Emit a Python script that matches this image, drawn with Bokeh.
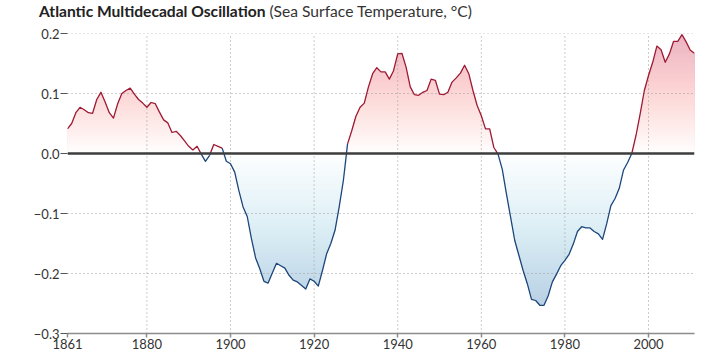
import numpy as np
from bokeh.plotting import figure
from bokeh.models import FixedTicker, CustomJSTickFormatter, Span, Range1d, Div
from bokeh.layouts import column
from bokeh.embed import file_html
from bokeh.resources import INLINE

# ---------------- data ----------------
years = list(range(1861, 2012))
amo = [
    0.041, 0.050, 0.068, 0.077, 0.073, 0.068, 0.067, 0.090, 0.102, 0.086,   # 1861-1870
    0.068, 0.059, 0.083, 0.100, 0.105, 0.109, 0.099, 0.090, 0.084, 0.077,   # 1871-1880
    0.085, 0.083, 0.069, 0.056, 0.051, 0.035, 0.037, 0.030, 0.021, 0.012,   # 1881-1890
    0.006, 0.012, -0.001, -0.013, -0.003, 0.015, 0.012, 0.009, -0.013, -0.017,  # 1891-1900
    -0.031, -0.062, -0.089, -0.105, -0.142, -0.174, -0.192, -0.213, -0.216, -0.199,  # 1901-1910
    -0.183, -0.187, -0.191, -0.203, -0.211, -0.214, -0.220, -0.226, -0.209, -0.213,  # 1911-1920
    -0.221, -0.195, -0.167, -0.150, -0.128, -0.089, -0.045, 0.016, 0.038, 0.062,   # 1921-1930
    0.077, 0.084, 0.111, 0.133, 0.143, 0.136, 0.136, 0.124, 0.138, 0.166,   # 1931-1940
    0.167, 0.144, 0.111, 0.098, 0.097, 0.102, 0.105, 0.124, 0.122, 0.099,   # 1941-1950
    0.098, 0.102, 0.119, 0.126, 0.134, 0.147, 0.133, 0.105, 0.080, 0.063,   # 1951-1960
    0.041, 0.041, 0.010, -0.001, -0.026, -0.067, -0.106, -0.145, -0.170, -0.195,  # 1961-1970
    -0.217, -0.243, -0.245, -0.253, -0.253, -0.237, -0.214, -0.201, -0.187, -0.178,  # 1971-1980
    -0.168, -0.151, -0.130, -0.122, -0.124, -0.124, -0.130, -0.134, -0.143, -0.117,  # 1981-1990
    -0.087, -0.075, -0.058, -0.028, -0.015, 0.000, 0.030, 0.066, 0.105, 0.130,   # 1991-2000
    0.152, 0.179, 0.173, 0.152, 0.166, 0.187, 0.187, 0.198, 0.186, 0.172,   # 2001-2010
    0.167,                                                                   # 2011
]
x_ticks = [1861, 1880, 1900, 1920, 1940, 1960, 1980, 2000]
y_ticks = [-0.3, -0.2, -0.1, 0.0, 0.1, 0.2]
title_bold = "Atlantic Multidecadal Oscillation"
title_rest = "(Sea Surface Temperature, °C)"

FONT = "Lato"
RED_LINE = "#9e1b34"
BLUE_LINE = "#1d477a"
GRID = "#9a9a9a"

x = np.array(years, dtype=float)
v = np.array(amo, dtype=float)
x_lo, x_hi = 1861, 2011
y_lo, y_hi = -0.3, 0.2

p = figure(width=720, height=329, output_backend="svg", toolbar_location=None,
           x_range=Range1d(x_lo, x_hi), y_range=Range1d(y_lo, y_hi),
           min_border_left=67, min_border_right=26, min_border_top=8,
           min_border_bottom=21)
p.outline_line_color = None
p.background_fill_color = "white"
p.border_fill_color = "white"
p.xgrid.visible = False
p.ygrid.visible = False


def hexrgb(h):
    h = h.lstrip("#")
    return [int(h[i:i + 2], 16) for i in (0, 2, 4)]


def ramp(stops, n):
    t = np.linspace(0, 1, n)
    ts = [s[0] for s in stops]
    chans = [np.interp(t, ts, [hexrgb(s[1])[c] for s in stops]) for c in range(3)]
    cols = ["#%02x%02x%02x" % tuple(int(round(ch[i])) for ch in chans) for i in range(n)]
    return t, cols


# vertical gradient: nested areas under the curve, each capped at a level
N = 60
vmax = float(v.max())
vmin = float(v.min())
t_r, c_r = ramp([(0.0, "#ffffff"), (0.35, "#fde3e1"), (0.6, "#fbd0d1"), (1.0, "#eab4c2")], N)
t_b, c_b = ramp([(0.0, "#ffffff"), (0.2, "#f0f8fb"), (0.5, "#dceff5"), (1.0, "#b9d1e5")], N)
for k in range(N - 1, 0, -1):
    cap_r = t_r[k] * vmax
    r = p.varea(x=x, y1=0, y2=np.clip(v, 0, cap_r), fill_color=c_r[k])
    r.level = "image"
    cap_b = t_b[k] * vmin
    r = p.varea(x=x, y1=0, y2=np.clip(v, cap_b, 0), fill_color=c_b[k])
    r.level = "image"

# dotted grid drawn above the fills
xg = x_ticks[1:]
yg = [t for t in y_ticks if t not in (0.0, -0.3)]
g1 = p.segment(x0=xg, y0=[y_lo] * len(xg), x1=xg, y1=[y_hi] * len(xg),
               line_color=GRID, line_dash="1 3", line_width=1)
g2 = p.segment(x0=[x_lo] * len(yg), y0=yg, x1=[x_hi] * len(yg), y1=yg,
               line_color=GRID, line_dash="1 3", line_width=1)
for r in (g1, g2):
    r.level = "underlay"

# curve split into runs of same sign
xs_r, ys_r, xs_b, ys_b = [], [], [], []
seg_pos = (v[:-1] + v[1:]) >= 0
start = 0
for i in range(1, len(seg_pos) + 1):
    if i == len(seg_pos) or seg_pos[i] != seg_pos[start]:
        xs_run = list(x[start:i + 1])
        ys_run = list(v[start:i + 1])
        if seg_pos[start]:
            xs_r.append(xs_run); ys_r.append(ys_run)
        else:
            xs_b.append(xs_run); ys_b.append(ys_run)
        start = i
p.multi_line(xs=xs_r, ys=ys_r, line_color=RED_LINE, line_width=1.3, line_join="round")
p.multi_line(xs=xs_b, ys=ys_b, line_color=BLUE_LINE, line_width=1.3, line_join="round")

p.add_layout(Span(location=0, dimension="width", line_color="#3d3d3d", line_width=2.5))

# axes
p.xaxis.ticker = FixedTicker(ticks=x_ticks)
p.yaxis.ticker = FixedTicker(ticks=y_ticks)
p.yaxis.formatter = CustomJSTickFormatter(code="return tick.toFixed(1).replace('-', '\u2212');")
for ax in (p.xaxis, p.yaxis):
    ax.minor_tick_line_color = None
    ax.major_tick_in = 0
    ax.major_label_text_font = FONT
    ax.major_label_text_font_size = "13px"
    ax.major_label_text_color = "#333333"
p.xaxis.axis_line_color = "#8c8c8c"
p.xaxis.axis_line_width = 1.5
p.xaxis.major_tick_line_color = "#8c8c8c"
p.xaxis.major_tick_line_width = 1.5
p.xaxis.major_tick_out = 4
p.xaxis.major_label_standoff = 1
p.yaxis.axis_line_color = None
p.yaxis.major_tick_line_color = "#555555"
p.yaxis.major_tick_out = 7
p.yaxis.major_label_standoff = 1

# title
title = Div(text=f'<b style="color:#222222">{title_bold}</b> {title_rest}',
            width=720, height=25, margin=(0, 0, 0, 0),
            styles={"font-family": "Lato", "font-size": "15.6px", "color": "#333333",
                    "padding-left": "39px", "padding-top": "1px",
                    "line-height": "20px", "box-sizing": "border-box",
                    "white-space": "nowrap"})

layout = column(title, p, spacing=0)
open("out.html", "w").write(file_html(layout, INLINE))
